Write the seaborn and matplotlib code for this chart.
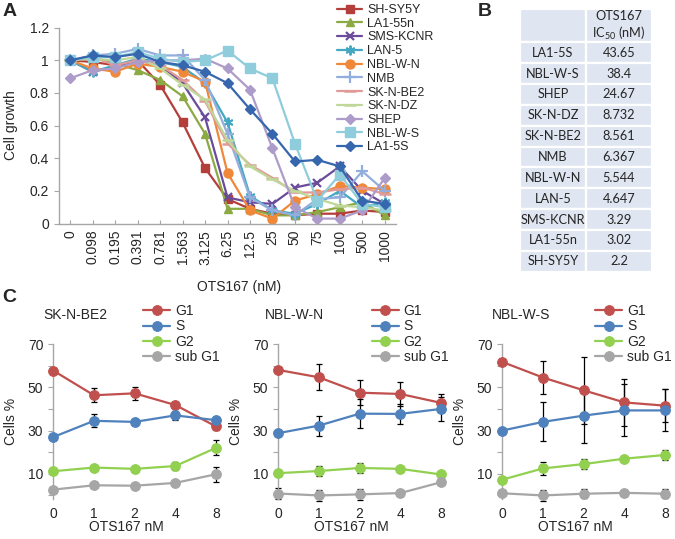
import matplotlib
matplotlib.use("Agg")
import matplotlib.pyplot as plt
import seaborn as sns
import numpy as np
import pandas as pd

# ---- panel A: cell growth vs OTS167 dose
doses = ['0', '0.098', '0.195', '0.391', '0.781', '1.563', '3.125', '6.25',
         '12.5', '25', '50', '75', '100', '500', '1000']

sh_sy5y = [1.00, 0.99, 0.97, 1.00, 0.85, 0.62, 0.34, 0.15, 0.09, 0.06, 0.05, 0.06, 0.06, 0.08, 0.07]
la1_55n = [1.00, 1.02, 0.98, 0.94, 0.88, 0.78, 0.55, 0.09, 0.09, 0.05, 0.05, 0.07, 0.10, 0.13, 0.05]
sms_kcnr = [1.00, 0.93, 0.96, 1.00, 0.97, 0.86, 0.65, 0.16, 0.13, 0.12, 0.22, 0.25, 0.35, 0.20, 0.12]
lan_5 = [1.00, 0.93, 0.97, 1.01, 0.99, 0.96, 0.86, 0.62, 0.17, 0.08, 0.06, 0.12, 0.20, 0.10, 0.13]
nbl_w_n = [1.00, 0.95, 0.93, 0.98, 0.96, 0.93, 0.87, 0.31, 0.08, 0.03, 0.14, 0.18, 0.23, 0.22, 0.21]
nmb = [1.00, 1.03, 1.04, 1.07, 1.03, 1.03, 0.88, 0.55, 0.16, 0.08, 0.05, 0.15, 0.16, 0.32, 0.20]
sk_n_be2 = [1.00, 1.02, 0.97, 1.00, 0.97, 0.88, 0.75, 0.49, 0.36, 0.28, 0.19, 0.19, 0.21, 0.22, 0.18]
sk_n_dz = [1.00, 1.01, 1.00, 1.02, 0.95, 0.85, 0.76, 0.51, 0.35, 0.27, 0.20, 0.15, 0.11, 0.10, 0.08]
shep = [0.89, 0.94, 0.95, 0.99, 1.00, 1.00, 1.01, 0.95, 0.82, 0.46, 0.10, 0.03, 0.03, 0.08, 0.28]
nbl_w_s = [1.00, 1.02, 1.02, 1.05, 1.01, 0.99, 1.00, 1.06, 0.95, 0.89, 0.49, 0.14, 0.30, 0.12, 0.10]
la1_5s = [1.00, 1.03, 1.02, 1.04, 0.99, 0.97, 0.93, 0.86, 0.70, 0.55, 0.38, 0.39, 0.35, 0.14, 0.12]

names_a = ['SH-SY5Y', 'LA1-55n', 'SMS-KCNR', 'LAN-5', 'NBL-W-N', 'NMB',
           'SK-N-BE2', 'SK-N-DZ', 'SHEP', 'NBL-W-S', 'LA1-5S']
values_a = [sh_sy5y, la1_55n, sms_kcnr, lan_5, nbl_w_n, nmb,
            sk_n_be2, sk_n_dz, shep, nbl_w_s, la1_5s]

# ---- panel B: IC50 table
ic50_lines = ['LA1-5S', 'NBL-W-S', 'SHEP', 'SK-N-DZ', 'SK-N-BE2', 'NMB',
              'NBL-W-N', 'LAN-5', 'SMS-KCNR', 'LA1-55n', 'SH-SY5Y']
ic50_values = ['43.65', '38.4', '24.67', '8.732', '8.561', '6.367',
               '5.544', '4.647', '3.29', '3.02', '2.2']

# ---- panel C: cell cycle phases
phases = ['G1', 'S', 'G2', 'sub G1']
c_doses = ['0', '1', '2', '4', '8']

be2_g1 = [57.7, 46.3, 47.2, 41.8, 31.9]
be2_s = [27.0, 34.5, 34.0, 37.0, 34.8]
be2_g2 = [11.2, 12.9, 12.3, 13.6, 22.0]
be2_sub = [2.7, 4.7, 4.5, 5.8, 9.8]
be2_g1_err = [0.5, 3.2, 3.0, 0.8, 1.8]
be2_s_err = [0.5, 3.0, 1.0, 2.0, 1.0]
be2_g2_err = [0.5, 0.8, 0.8, 2.0, 3.5]
be2_sub_err = [0.5, 0.5, 0.5, 0.7, 3.4]

wn_g1 = [58.0, 54.6, 47.5, 46.9, 42.8]
wn_s = [28.8, 32.3, 37.8, 37.7, 40.0]
wn_g2 = [10.3, 11.3, 12.7, 12.3, 9.7]
wn_sub = [0.9, 0.0, 0.5, 1.1, 6.1]
wn_g1_err = [0.5, 6.0, 5.9, 5.5, 4.2]
wn_s_err = [0.5, 4.6, 6.7, 4.5, 5.5]
wn_g2_err = [1.5, 2.3, 2.5, 1.0, 0.5]
wn_sub_err = [2.5, 2.5, 2.5, 0.5, 0.5]

ws_g1 = [61.7, 54.5, 48.6, 43.0, 41.5]
ws_s = [30.0, 34.0, 36.9, 39.3, 39.3]
ws_g2 = [7.3, 12.5, 14.5, 17.0, 18.7]
ws_sub = [1.0, 0.0, 0.8, 1.2, 0.8]
ws_g1_err = [0.5, 7.5, 15.4, 10.8, 7.7]
ws_s_err = [0.5, 9.0, 12.6, 12.0, 9.7]
ws_g2_err = [0.5, 3.0, 2.5, 1.0, 2.5]
ws_sub_err = [0.5, 2.5, 2.0, 1.0, 2.0]

panels_c = [
    ('SK-N-BE2', [be2_g1, be2_s, be2_g2, be2_sub], [be2_g1_err, be2_s_err, be2_g2_err, be2_sub_err]),
    ('NBL-W-N', [wn_g1, wn_s, wn_g2, wn_sub], [wn_g1_err, wn_s_err, wn_g2_err, wn_sub_err]),
    ('NBL-W-S', [ws_g1, ws_s, ws_g2, ws_sub], [ws_g1_err, ws_s_err, ws_g2_err, ws_sub_err]),
]

# styling
sns.set_style('white')
plt.rcParams['font.family'] = ['Liberation Sans', 'DejaVu Sans']
plt.rcParams['mathtext.fontset'] = 'custom'
plt.rcParams['mathtext.rm'] = 'Lato'

W, H = 675, 539
grey = '#A6A6A6'

# color, marker, size, edge width
style_a = {
    'SH-SY5Y': ('#B43E3A', 's', 5.5, 1.0),
    'LA1-55n': ('#8BAA43', '^', 6, 1.0),
    'SMS-KCNR': ('#6A4C9B', 'x', 6, 1.6),
    'LAN-5': ('#45A8C2', (6, 2, 0), 7, 1.4),
    'NBL-W-N': ('#F0883A', 'o', 6.5, 1.0),
    'NMB': ('#93AEDC', '+', 8, 1.6),
    'SK-N-BE2': ('#E09A98', '_', 8, 1.8),
    'SK-N-DZ': ('#BFD89A', '_', 8, 1.8),
    'SHEP': ('#AD9CC9', 'D', 5.5, 1.0),
    'NBL-W-S': ('#8FCCDC', 's', 7.5, 1.0),
    'LA1-5S': ('#3667AE', 'D', 5, 1.0),
}

fig = plt.figure(figsize=(W / 100, H / 100), dpi=100)

# ================= PANEL A
ax_a = fig.add_axes([59 / W, 1 - 223.5 / H, 337 / W, 195.8 / H])
df_a = pd.DataFrame({
    'dose': np.tile(np.arange(len(doses)), len(names_a)),
    'line': np.repeat(names_a, len(doses)),
    'growth': np.concatenate(values_a),
})
for name in names_a:
    col, mk, ms, mew = style_a[name]
    sub = df_a[df_a['line'] == name]
    sns.lineplot(data=sub, x='dose', y='growth', ax=ax_a, color=col,
                 marker=mk, markersize=ms, markeredgecolor=col, markeredgewidth=mew,
                 linewidth=1.6, label=name, legend=False)

ax_a.set_xlim(-0.5, len(doses) - 0.5)
ax_a.set_ylim(0, 1.2)
ax_a.set_xticks(range(len(doses)))
ax_a.set_xticklabels(doses, rotation=90, fontsize=10)
ax_a.set_yticks([0, 0.2, 0.4, 0.6, 0.8, 1.0, 1.2])
ax_a.set_yticklabels(['0', '0.2', '0.4', '0.6', '0.8', '1', '1.2'], fontsize=10)
ax_a.tick_params(axis='x', bottom=True, direction='in', length=3, color=grey, pad=4.5)
ax_a.tick_params(axis='y', left=True, direction='out', length=3.6, color=grey, pad=3.6)
for s in ['top', 'right']:
    ax_a.spines[s].set_visible(False)
for s in ['left', 'bottom']:
    ax_a.spines[s].set_color(grey)
    ax_a.spines[s].set_linewidth(1.0)
ax_a.set_xlabel('OTS167 (nM)', fontsize=10)
ax_a.set_ylabel('Cell growth', fontsize=10)
ax_a.xaxis.set_label_coords(0.533, -0.289)
ax_a.yaxis.set_label_coords(-0.122, 0.5)

handles, labels = ax_a.get_legend_handles_labels()
fig.legend(handles, labels, loc='upper left', bbox_to_anchor=(337 / W, 1 - 4 / H),
           frameon=False, fontsize=9, handlelength=2.0, handletextpad=0.4,
           labelspacing=0.14, borderpad=0, borderaxespad=0)

# ================= PANEL B
ax_b = fig.add_axes([520 / W, 1 - 271.7 / H, 132 / W, 262.4 / H])
ax_b.axis('off')
cell_text = [['', 'OTS167\nIC$_{\\mathrm{50}}$ (nM)']] + [[a, b] for a, b in zip(ic50_lines, ic50_values)]
tbl = ax_b.table(cellText=cell_text, cellLoc='center', bbox=[0, 0, 1, 1],
                 cellColours=[['#DFE6F1', '#DFE6F1']] * len(cell_text))
tbl.auto_set_font_size(False)
for (r, c), cell in tbl.get_celld().items():
    cell.set_edgecolor('white')
    cell.set_linewidth(1.6)
    cell.get_text().set_fontfamily(['Lato', 'DejaVu Sans'])
    cell.get_text().set_fontsize(9.2)
    cell.get_text().set_color('#262626')
    if r == 0:
        cell.set_height(cell.get_height() * 33 / 20.8)

# ================= PANEL C
phase_colors = ['#C0504D', '#4F81BD', '#92D050', '#A6A6A6']
c_left = [53.3, 278.3, 502.3]
leg_x = [143, 371.7, 595]
title_x = [43, 265, 491.7]
x_pos = np.arange(len(c_doses))

for i, (title, vals, errs) in enumerate(panels_c):
    ax = fig.add_axes([c_left[i] / W, 1 - 498.7 / H, 162.7 / W, 154.7 / H])
    for ph, v, e, col in zip(phases, vals, errs, phase_colors):
        ax.errorbar(x_pos, v, yerr=e, fmt='none', ecolor='black', elinewidth=0.9,
                    capsize=2.5, capthick=0.9, zorder=1, clip_on=False)
        sns.lineplot(x=x_pos, y=v, ax=ax, color=col, marker='o', markersize=7,
                     markeredgecolor=col, linewidth=1.6, label=ph, legend=False,
                     clip_on=False, zorder=3)
    ax.set_xlim(0, len(c_doses) - 1)
    ax.set_ylim(-1.5, 70)
    ax.set_xticks(x_pos)
    ax.set_xticklabels(c_doses, fontsize=10)
    ax.set_yticks(range(0, 71, 10))
    ax.set_yticklabels(['', '10', '', '30', '', '50', '', '70'], fontsize=10)
    ax.tick_params(axis='x', bottom=False, length=0, pad=6)
    ax.tick_params(axis='y', left=True, direction='out', length=3.6, color=grey, pad=3.6)
    for s in ['top', 'right', 'bottom']:
        ax.spines[s].set_visible(False)
    ax.spines['left'].set_color(grey)
    ax.spines['left'].set_linewidth(1.0)
    ax.set_xlabel('OTS167 nM', fontsize=10)
    ax.set_ylabel('Cells %', fontsize=10)
    ax.xaxis.set_label_coords(0.451, -0.138)
    ax.yaxis.set_label_coords(-0.217, 0.5)
    h, l = ax.get_legend_handles_labels()
    ax.legend(h, l, loc='upper left', bbox_to_anchor=(leg_x[i] / W, 1 - 304 / H),
              bbox_transform=fig.transFigure, frameon=False, fontsize=10,
              handlelength=1.95, handletextpad=0.35, labelspacing=0.1,
              borderpad=0, borderaxespad=0)
    fig.text(title_x[i] / W, 1 - 315 / H, title, fontsize=10, va='center', ha='left')

# panel letters
fig.text(3 / W, 1 - 3 / H, 'A', fontsize=14, fontweight='bold', va='top')
fig.text(478 / W, 1 - 3 / H, 'B', fontsize=14, fontweight='bold', va='top')
fig.text(2 / W, 1 - 289 / H, 'C', fontsize=14, fontweight='bold', va='top')

fig.savefig('out.png', dpi=100, facecolor='white')
